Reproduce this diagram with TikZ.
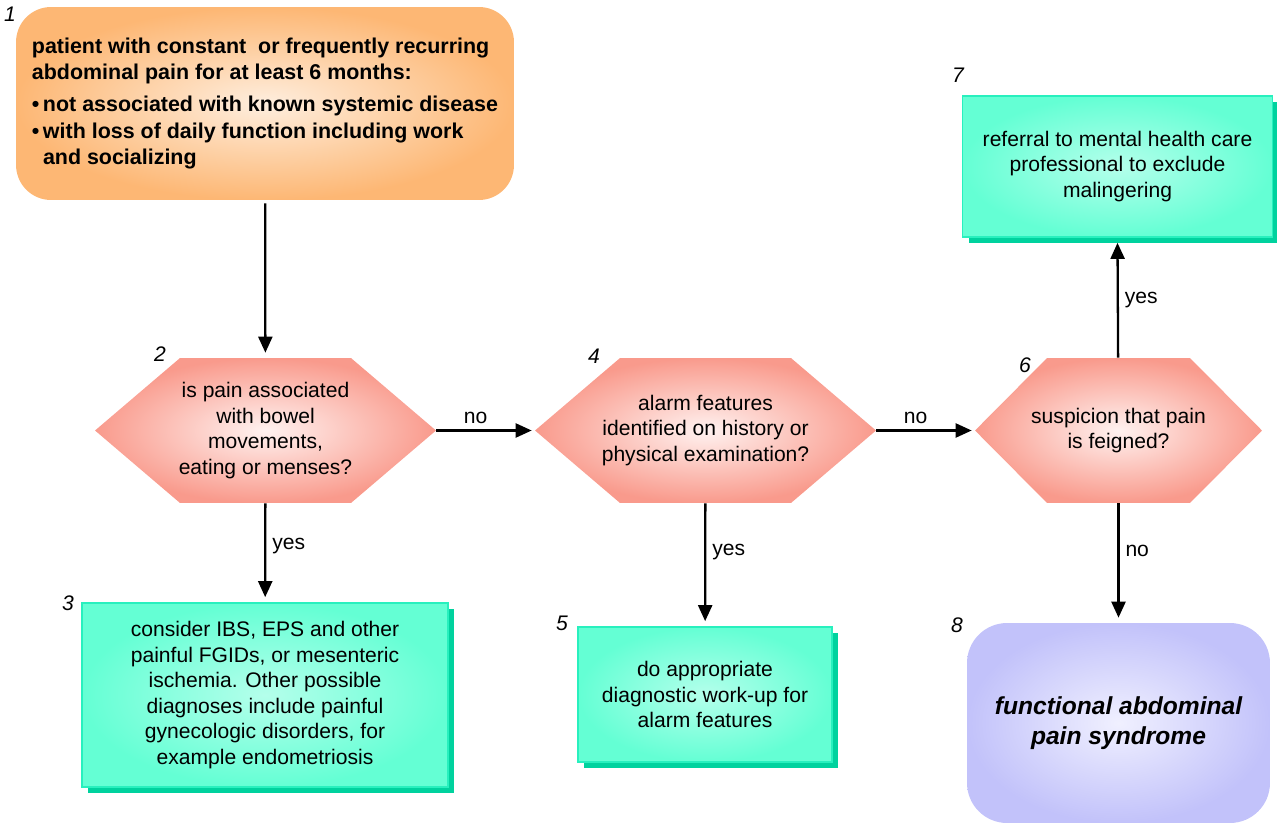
\documentclass[tikz,border=0pt]{standalone}
\usepackage{fontspec}
\setmainfont{Liberation Sans}
\usepackage{tikz}
\usetikzlibrary{arrows.meta}
\usetikzlibrary{shadows}

\definecolor{orangeout}{RGB}{253,183,116}
\definecolor{orangein}{RGB}{254,238,222}
\definecolor{salmonout}{RGB}{249,154,140}
\definecolor{salmonin}{RGB}{255,242,240}
\definecolor{greenout}{RGB}{100,255,212}
\definecolor{greenin}{RGB}{180,255,235}
\definecolor{greenline}{RGB}{40,240,190}
\definecolor{greenshadow}{RGB}{0,210,158}
\definecolor{violetout}{RGB}{194,194,250}
\definecolor{violetin}{RGB}{240,240,255}

\begin{document}
\begin{tikzpicture}[x=0.02cm,y=-0.02cm]
\tikzset{font=\fontsize{12}{14.5}\selectfont}
\tikzset{num/.style={font=\fontsize{12}{14.5}\selectfont\itshape}}
\tikzset{startbox/.style={rectangle, rounded corners=0.7cm, minimum width=9.96cm, minimum height=3.86cm, inner color=orangein, outer color=orangeout, align=left, font=\fontsize{12.2}{15}\selectfont\bfseries}}
\tikzset{endbox/.style={rectangle, rounded corners=0.8cm, minimum width=6.06cm, minimum height=4cm, inner color=violetin, outer color=violetout, align=center, font=\fontsize{14}{17}\selectfont\bfseries\itshape}}
\tikzset{greenbox/.style={rectangle, draw=greenline, line width=1pt, inner color=greenin, outer color=greenout, align=center, drop shadow={shadow xshift=0.12cm, shadow yshift=-0.12cm, fill=greenshadow, opacity=1}}}
\tikzset{hexbox/.style 2 args={rectangle, minimum width=#1, minimum height=2.9cm, inner sep=0pt, align=center, path picture={\shade[inner color=salmonin, outer color=salmonout] (path picture bounding box.west) -- ([xshift=#2]path picture bounding box.north west) -- ([xshift=-#2]path picture bounding box.north east) -- (path picture bounding box.east) -- ([xshift=-#2]path picture bounding box.south east) -- ([xshift=#2]path picture bounding box.south west) -- cycle;}}}
\tikzset{arrow/.style={draw, line width=1.3pt, -{Triangle[length=0.32cm, width=0.28cm]}, shorten >=0.1cm}}
\useasboundingbox (0,0) rectangle (1277,828);

% boxes
\node[startbox] (box1) at (265,103.5) {patient with constant\ \ or frequently recurring\\
abdominal pain for at least 6 months:\\[0.12cm]
\textbullet\,not associated with known systemic disease\\
\textbullet\,with loss of daily function including work\\
\hphantom{\textbullet\,}and socializing};
\node[hexbox={6.82cm}{1.7cm}] (hex2) at (265.5,430.5) {is pain associated\\with bowel\\movements,\\eating or menses?};
\node[greenbox, minimum width=7.32cm, minimum height=3.68cm] (box3) at (265,695) {consider IBS, EPS and other\\painful FGIDs, or mesenteric\\ischemia. Other possible\\diagnoses include painful\\gynecologic disorders, for\\example endometriosis};
\node[hexbox={6.82cm}{1.7cm}] (hex4) at (705.5,430.5) {alarm features\\identified on history or\\physical examination?};
\node[greenbox, minimum width=5.08cm, minimum height=2.7cm] (box5) at (705,694.5) {do appropriate\\diagnostic work-up for\\alarm features};
\node[hexbox={5.74cm}{1.44cm}] (hex6) at (1118.5,430.5) {suspicion that pain\\is feigned?};
\node[greenbox, minimum width=6.2cm, minimum height=2.82cm] (box7) at (1117.5,166.5) {referral to mental health care\\professional to exclude\\malingering};
\node[endbox] (box8) at (1118.5,723) {functional abdominal\\pain syndrome};

% numbers
\node[num] (n1) at (10,14) {1};
\node[num] (n2) at (160,354) {2};
\node[num] (n3) at (68,603) {3};
\node[num] (n4) at (594,356) {4};
\node[num] (n5) at (562,623) {5};
\node[num] (n6) at (1025,365) {6};
\node[num] (n7) at (958,75) {7};
\node[num] (n8) at (957,625) {8};

% arrows
\draw[arrow, shorten <=0.06cm] (box1) -- (hex2);
\draw[arrow] (hex2) -- node[right, pos=0.43] {yes} (box3);
\draw[arrow, shorten >=0.06cm] (hex2) -- node[above, pos=0.4] {no} (hex4);
\draw[arrow] (hex4) -- node[right, pos=0.4] {yes} (box5);
\draw[arrow, shorten >=0.06cm] (hex4) -- node[above, pos=0.4] {no} (hex6);
\draw[arrow, shorten >=0pt] (hex6) -- node[right, pos=0.5] {yes} ([yshift=-0.1cm]box7.south);
\draw[arrow] (hex6) -- node[right, pos=0.4] {no} (box8);
\end{tikzpicture}
\end{document}
